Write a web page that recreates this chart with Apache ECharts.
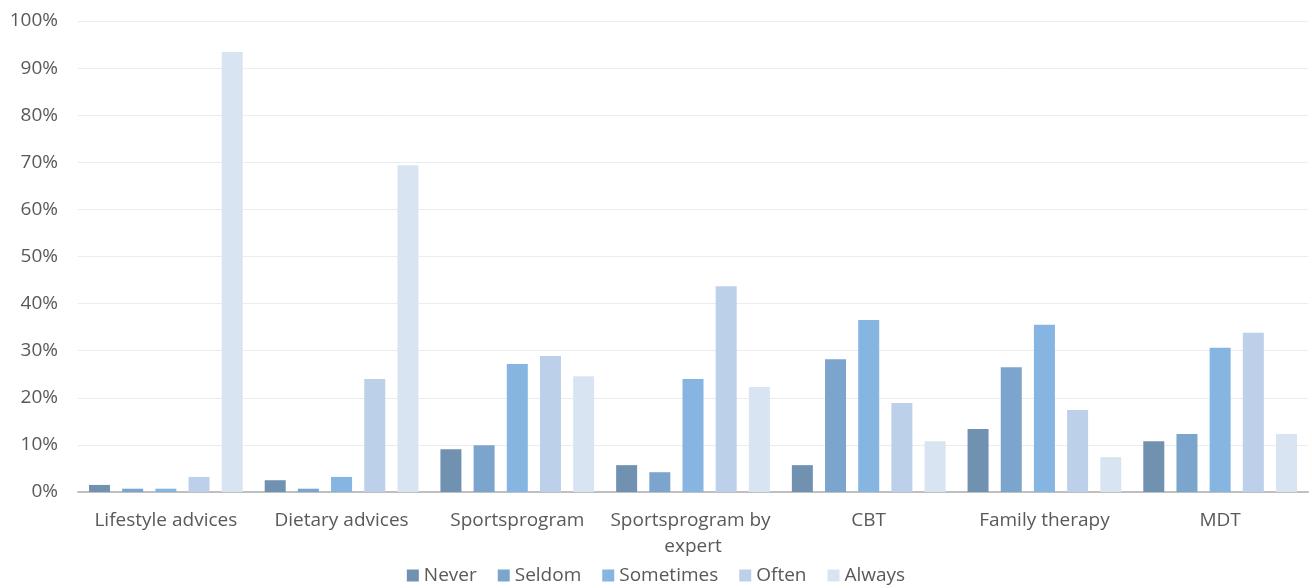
<!DOCTYPE html>
<html>
<head>
<meta charset="utf-8">
<script src="https://cdn.jsdelivr.net/npm/echarts@6/dist/echarts.min.js"></script>
<style>
  html, body { margin: 0; padding: 0; background: #fff; }
  #chart { width: 1312px; height: 588px; }
</style>
</head>
<body>
<div id="chart"></div>
<script>
// categories and values (percent)
var categories = ['Lifestyle advices', 'Dietary advices', 'Sportsprogram', 'Sportsprogram by expert', 'CBT', 'Family therapy', 'MDT'];
var never     = [1.5, 2.5, 9.1, 5.7, 5.7, 13.4, 10.8];
var seldom    = [0.7, 0.7, 9.9, 4.2, 28.2, 26.5, 12.3];
var sometimes = [0.7, 3.2, 27.2, 24.0, 36.5, 35.5, 30.6];
var often     = [3.2, 24.0, 28.9, 43.7, 18.9, 17.4, 33.8];
var always    = [93.4, 69.4, 24.6, 22.3, 10.8, 7.4, 12.3];

var seriesNames = ['Never', 'Seldom', 'Sometimes', 'Often', 'Always'];
var seriesData = [never, seldom, sometimes, often, always];
var colors = ['#7191b1', '#7ba5cc', '#85b5e0', '#bdd0ea', '#d9e4f3'];

var font = 'Open Sans';

document.addEventListener('DOMContentLoaded', function () {
  var chart = echarts.init(document.getElementById('chart'));

  var series = seriesNames.map(function (name, i) {
    return {
      name: name,
      type: 'bar',
      data: seriesData[i],
      barWidth: 21,
      barGap: '58%',
      itemStyle: { color: colors[i] }
    };
  });

  var option = {
    animation: false,
    color: colors,
    grid: { left: 78, right: 4, top: 21, bottom: 96 },
    legend: {
      bottom: -2,
      left: 'center',
      icon: 'rect',
      itemWidth: 12,
      itemHeight: 12,
      itemGap: 21,
      textStyle: { fontFamily: font, fontSize: 19, color: '#595959' }
    },
    xAxis: {
      type: 'category',
      data: categories,
      axisLine: { lineStyle: { color: '#bfbfbf', width: 2 } },
      axisTick: { show: false },
      axisLabel: {
        interval: 0,
        fontFamily: font,
        fontSize: 19,
        color: '#595959',
        margin: 16,
        width: 172,
        overflow: 'break',
        lineHeight: 26
      }
    },
    yAxis: {
      type: 'value',
      min: 0,
      max: 100,
      interval: 10,
      axisLine: { show: false },
      axisTick: { show: false },
      splitLine: { lineStyle: { color: '#ececec', width: 1 } },
      axisLabel: {
        fontFamily: font,
        fontSize: 19,
        color: '#595959',
        margin: 20,
        formatter: '{value}%'
      }
    },
    series: series
  };

  chart.setOption(option);
});
</script>
</body>
</html>
